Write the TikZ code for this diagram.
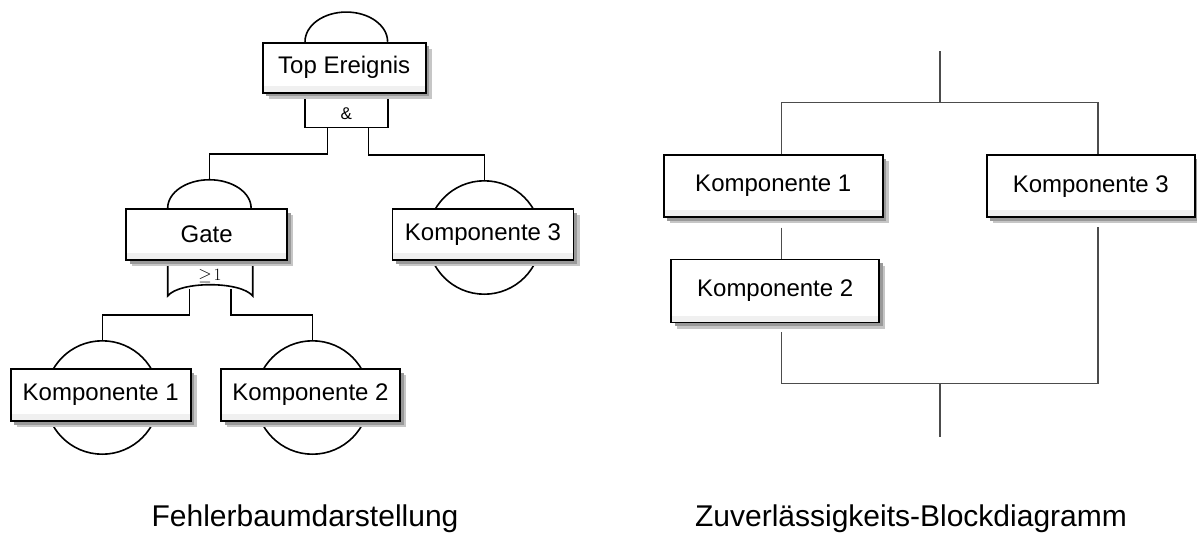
\documentclass[tikz,border=0pt]{standalone}
\usepackage{fontspec}
\setmainfont{Liberation Sans}
\usetikzlibrary{shadows,backgrounds}

\tikzset{
  block/.style={draw, line width=1.9pt, fill=white, inner sep=0pt,
    font=\fontsize{24}{28}\selectfont,
    general shadow={fill=gray!45, shadow xshift=6pt, shadow yshift=-6pt},
    general shadow={fill=gray!80, shadow xshift=3.5pt, shadow yshift=-3.5pt},
    path picture={\fill[gray!12] (path picture bounding box.south west) rectangle ([yshift=7pt]path picture bounding box.south east);}},
  link/.style={line width=1.6pt},
  rbdlink/.style={line width=1.3pt, black!70},
  caption/.style={font=\fontsize{30}{36}\selectfont, anchor=base},
}

\begin{document}
\begin{tikzpicture}[x=1pt, y=-1pt]
    \useasboundingbox (0,0) rectangle (1197,533);

    % Fehlerbaum
    \node[block, minimum width=163, minimum height=50] (top) at (344.2,67.7) {Top Ereignis};
    \node[block, minimum width=161, minimum height=51] (gate) at (206.7,234.5) {Gate};
    \node[block, minimum width=181, minimum height=51] (k3) at (483,234.5) {Komponente 3};
    \node[block, minimum width=180, minimum height=52] (k1) at (100.8,395) {Komponente 1};
    \node[block, minimum width=179, minimum height=52] (k2) at (310.5,395) {Komponente 2};

    \node[font=\fontsize{17}{20}\selectfont] (andsym) at ([shift={(2.2,20)}]top.south) {\&};
    \node[font=\fontsize{16}{18}\selectfont] (orsym) at ([shift={(3.3,15.2)}]gate.south) {$\geq\!1$};

    \begin{scope}[on background layer]
        \draw[link] ([xshift=-39.2pt]top.north) arc[start angle=180, end angle=0, x radius=41.3pt, y radius=29.7pt];
        \draw[link] ([xshift=-39.2pt]top.south) -- ++(0,34) -- ++(83,0) -- ++(0,-34);
        \draw[link] ([xshift=-39pt]gate.north) arc[start angle=180, end angle=0, x radius=41.7pt, y radius=28.3pt];
        \draw[link] ([xshift=-39pt]gate.south) -- ++(0,35) .. controls +(12,-15) and +(-12,-15) .. ++(85,0) -- ++(0,-35);
        \draw[link] ([shift={(1.3,3)}]k3.center) circle[radius=56.7pt];
        \draw[link] ([shift={(1.5,2.5)}]k1.center) circle[radius=56.7pt];
        \draw[link] ([shift={(2,2.5)}]k2.center) circle[radius=56.7pt];
    \end{scope}

    \coordinate (top-l) at ([shift={(-16.9,34)}]top.south);
    \coordinate (top-r) at ([shift={(24.1,34)}]top.south);
    \coordinate (gate-in) at ([shift={(2.7,-28.3)}]gate.north);
    \coordinate (k3-in) at ([shift={(1.3,-53.7)}]k3.center);
    \coordinate (or-l) at ([shift={(-17.4,28)}]gate.south);
    \coordinate (or-r) at ([shift={(24.3,28)}]gate.south);
    \coordinate (k1-in) at ([shift={(1.5,-54.2)}]k1.center);
    \coordinate (k2-in) at ([shift={(2,-54.2)}]k2.center);

    \draw[link] (top-l) |- ([yshift=25.7pt]gate-in) -- (gate-in);
    \draw[link] (top-r) |- ([yshift=25.7pt]k3-in) -- (k3-in);
    \draw[link] (or-l) |- ([yshift=25.8pt]k1-in) -- (k1-in);
    \draw[link] (or-r) |- ([yshift=25.8pt]k2-in) -- (k2-in);

    % Blockdiagramm
    \node[block, minimum width=219, minimum height=62] (rk1) at (773.3,186.2) {Komponente 1};
    \node[block, minimum width=208, minimum height=63] (rk2) at (775.2,291) {Komponente 2};
    \node[block, minimum width=208, minimum height=62] (rk3) at (1090.8,186.2) {Komponente 3};

    \coordinate (rin) at (940,51);
    \coordinate (split) at (940,102.7);
    \coordinate (merge) at (940,383.3);
    \coordinate (rout) at (940,436.7);

    \draw[rbdlink] (rin) -- (split);
    \draw[rbdlink] ([xshift=8.4pt]rk1.north) |- (split) -| ([xshift=7.3pt]rk3.north);
    \draw[rbdlink] ([shift={(8.4,9.4)}]rk1.south) -- ([xshift=6.5pt]rk2.north);
    \draw[rbdlink] ([shift={(6.5,9)}]rk2.south) |- (merge) -| ([shift={(7.3,8.7)}]rk3.south);
    \draw[rbdlink] (merge) -- (rout);

    \node[caption] (ftcap) at (305,526) {Fehlerbaumdarstellung};
    \node[caption] (rbdcap) at (911,526) {Zuverlässigkeits-Blockdiagramm};
\end{tikzpicture}
\end{document}
